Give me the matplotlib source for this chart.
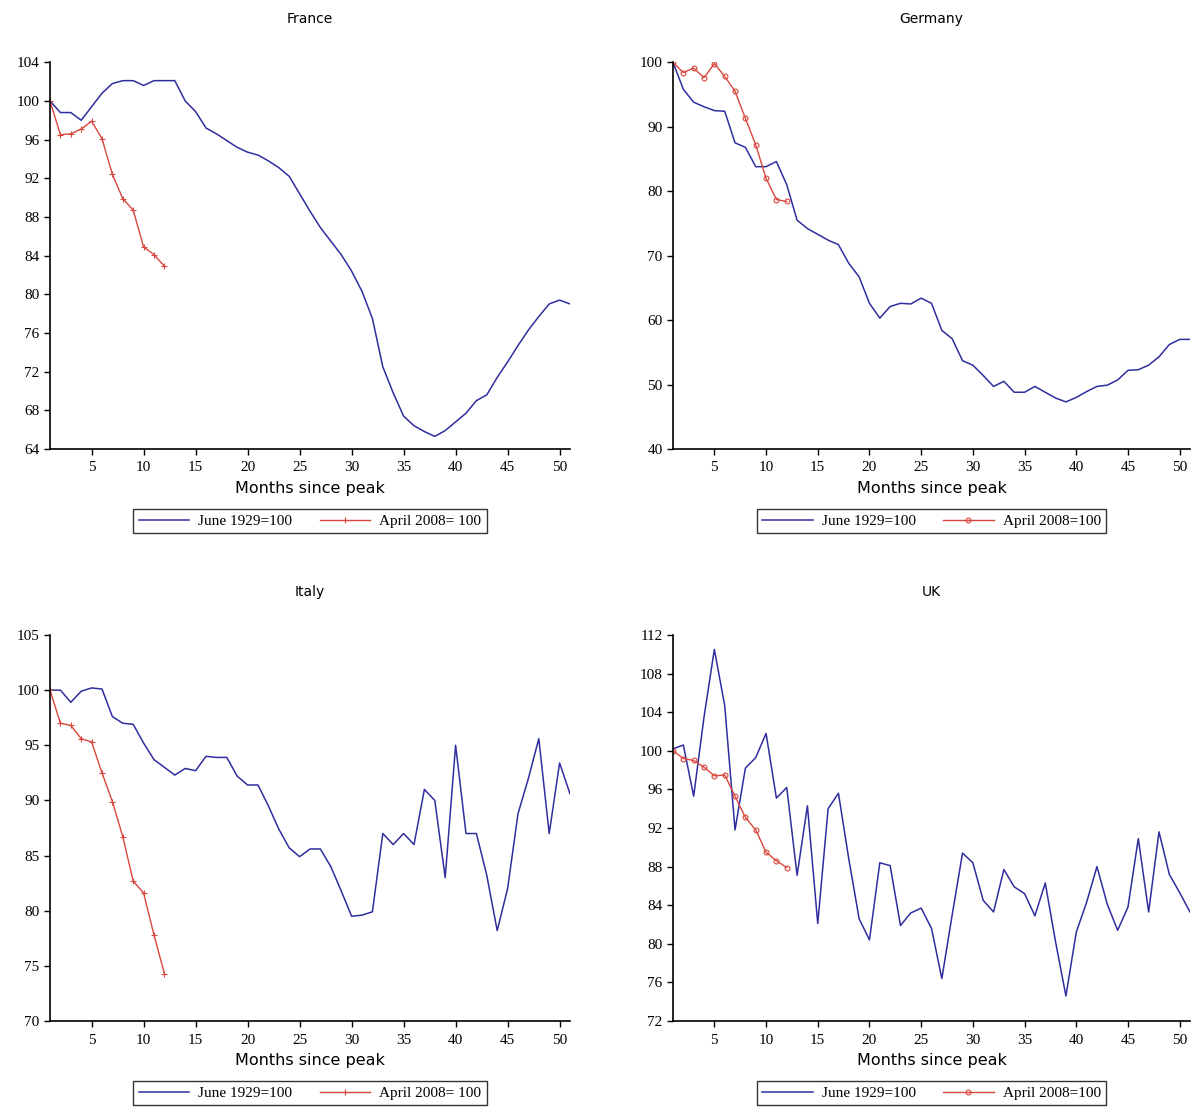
import numpy as np
import matplotlib
matplotlib.use("Agg")
import matplotlib.pyplot as plt

# months since peak
months_1929 = np.arange(1, 52)
months_2008 = np.arange(1, 13)

# France
france_1929 = [100.0, 98.8, 98.8, 98.0, 99.4, 100.8, 101.8, 102.1, 102.1, 101.6,
               102.1, 102.1, 102.1, 100.0, 98.9, 97.2, 96.6, 95.9, 95.2, 94.7,
               94.4, 93.8, 93.1, 92.2, 90.4, 88.6, 86.9, 85.5, 84.1, 82.4,
               80.3, 77.5, 72.5, 69.8, 67.4, 66.4, 65.8, 65.3, 65.9, 66.8,
               67.7, 69.0, 69.6, 71.4, 73.0, 74.7, 76.3, 77.7, 79.0, 79.4, 79.0]
france_2008 = [100.0, 96.5, 96.6, 97.1, 97.9, 96.1, 92.4, 89.9, 88.7, 84.9, 84.1, 82.9]

# Germany
germany_1929 = [100.0, 95.8, 93.8, 93.1, 92.5, 92.4, 87.5, 86.8, 83.8, 83.8,
                84.6, 81.0, 75.5, 74.2, 73.3, 72.4, 71.7, 68.8, 66.7, 62.6,
                60.3, 62.1, 62.6, 62.5, 63.4, 62.6, 58.4, 57.1, 53.7, 53.0,
                51.4, 49.7, 50.5, 48.8, 48.8, 49.7, 48.8, 47.9, 47.3, 48.0,
                48.9, 49.7, 49.9, 50.7, 52.2, 52.3, 53.0, 54.3, 56.2, 57.0, 57.0]
germany_2008 = [100.0, 98.4, 99.1, 97.6, 99.8, 97.8, 95.5, 91.3, 87.2, 82.0, 78.7, 78.4]

# Italy
italy_1929 = [100.0, 100.0, 98.9, 99.9, 100.2, 100.1, 97.6, 97.0, 96.9, 95.2,
              93.7, 93.0, 92.3, 92.9, 92.7, 94.0, 93.9, 93.9, 92.2, 91.4,
              91.4, 89.5, 87.4, 85.7, 84.9, 85.6, 85.6, 84.0, 81.8, 79.5,
              79.6, 79.9, 87.0, 86.0, 87.0, 86.0, 91.0, 90.0, 83.0, 95.0,
              87.0, 87.0, 83.2, 78.2, 82.0, 88.8, 92.0, 95.6, 87.0, 93.4, 90.6]
italy_2008 = [100.0, 97.0, 96.8, 95.6, 95.3, 92.5, 89.9, 86.7, 82.7, 81.6, 77.8, 74.3]

# UK
uk_1929 = [100.2, 100.6, 95.3, 103.5, 110.5, 104.7, 91.8, 98.2, 99.3, 101.8,
           95.1, 96.2, 87.1, 94.3, 82.1, 94.0, 95.6, 88.8, 82.6, 80.4,
           88.4, 88.1, 81.9, 83.2, 83.7, 81.6, 76.4, 83.0, 89.4, 88.4,
           84.5, 83.3, 87.7, 85.9, 85.2, 82.9, 86.3, 80.2, 74.6, 81.2,
           84.3, 88.0, 84.1, 81.4, 83.8, 90.9, 83.3, 91.6, 87.2, 85.3, 83.3]
uk_2008 = [100.0, 99.2, 99.0, 98.3, 97.4, 97.5, 95.3, 93.1, 91.8, 89.5, 88.6, 87.9]

panels = [
    ("France", france_1929, france_2008, np.arange(64, 105, 4), (64, 104), "+"),
    ("Germany", germany_1929, germany_2008, np.arange(40, 101, 10), (40, 100), "o"),
    ("Italy", italy_1929, italy_2008, np.arange(70, 106, 5), (70, 105), "+"),
    ("UK", uk_1929, uk_2008, np.arange(72, 113, 4), (72, 112), "o"),
]

# axes positions in figure fractions (left, bottom, width, height)
positions = [
    (0.0417, 0.5948, 0.4337, 0.3490),
    (0.5613, 0.5948, 0.4312, 0.3490),
    (0.0417, 0.0785, 0.4337, 0.3484),
    (0.5613, 0.0785, 0.4312, 0.3484),
]

BLUE = "#2e2e9e"
RED = "#d8473d"
SERIF = "Liberation Serif"

fig = plt.figure(figsize=(11.99, 11.08), dpi=100)

for (name, old, new, yticks, ylim, mk), pos in zip(panels, positions):
    ax = fig.add_axes(pos)
    ax.plot(months_1929, old, color=BLUE, lw=1.1, label="June 1929=100")
    if mk == "o":
        ax.plot(months_2008, new, color=RED, lw=1.0, marker="o", ms=3.5,
                mfc="none", mew=0.8, label="April 2008=100")
    else:
        ax.plot(months_2008, new, color=RED, lw=1.0, marker="+", ms=4,
                mew=0.8, label="April 2008= 100")

    ax.set_xlim(1, 51)
    ax.set_ylim(*ylim)
    ax.set_xticks(range(5, 51, 5))
    ax.set_yticks(yticks)
    for s in ("top", "right"):
        ax.spines[s].set_visible(False)
    for s in ("left", "bottom"):
        ax.spines[s].set_linewidth(1.2)
    ax.tick_params(direction="out", length=4, width=1, labelsize=11)
    ax.tick_params(axis="x", pad=5)
    for lab in ax.get_xticklabels() + ax.get_yticklabels():
        lab.set_fontfamily(SERIF)

    ax.set_title(name, fontsize=10, pad=28, family="DejaVu Sans")
    ax.set_xlabel("Months since peak", fontsize=11.5, labelpad=5, family="DejaVu Sans")

    leg = ax.legend(loc="center", bbox_to_anchor=(0.5, -0.187), ncol=2,
                    frameon=True, fancybox=False, edgecolor="black",
                    prop={"family": SERIF, "size": 11}, handlelength=3.3,
                    columnspacing=1.8, borderpad=0.35, handletextpad=0.6)
    leg.get_frame().set_linewidth(1.0)

fig.savefig("out.png", dpi=100, facecolor="white")
